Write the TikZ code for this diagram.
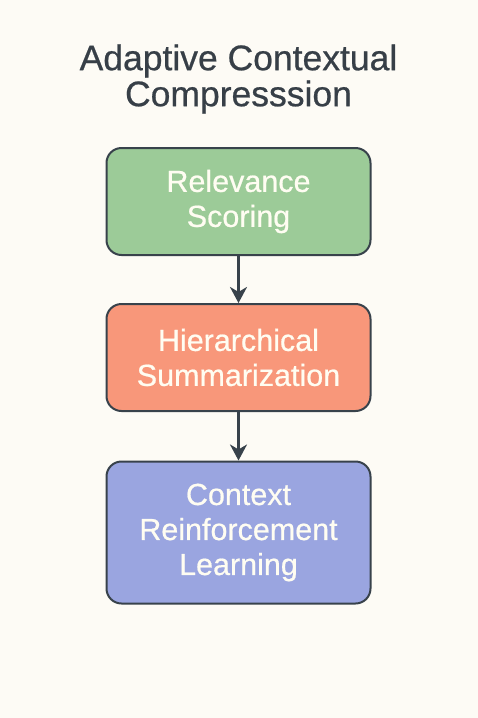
\documentclass[tikz,border=0pt]{standalone}
\usepackage{fontspec}
\setmainfont{Liberation Sans}
\newfontfamily\medfont{Liberation Sans}[BoldFont=Liberation Sans, BoldFeatures={FakeBold=0.6}]
\usetikzlibrary{arrows.meta}
\definecolor{bgcol}{HTML}{FDFBF5}
\definecolor{inkcol}{HTML}{38424B}
\definecolor{titlecol}{HTML}{373F47}
\definecolor{textcol}{HTML}{FFFDF2}
\definecolor{greencol}{HTML}{9CCB98}
\definecolor{orangecol}{HTML}{F8977A}
\definecolor{bluecol}{HTML}{9AA5E0}
\begin{document}
\begin{tikzpicture}[x=1pt,y=-1pt,
    stagebox/.style={draw=inkcol, line width=2pt, rounded corners=15pt,
        minimum width=264pt, align=center, text=textcol,
        font=\medfont\bfseries\fontsize{30.5}{35}\selectfont},
    flow/.style={draw=inkcol, line width=2.8pt,
        -{Stealth[length=16pt,width=17pt,inset=5pt]}}]
    % Background
    \fill[bgcol] (0,0) rectangle (478,718);

    % Title
    \node[text=titlecol, align=center, font=\medfont\bfseries\fontsize{35.5}{36}\selectfont] (title) at (238.5,79) {Adaptive Contextual\\Compresssion};

    % Stage 1
    \node[stagebox, fill=greencol, minimum height=107pt] (rel) at (238.5,201.5) {Relevance\\Scoring};

    % Stage 2
    \node[stagebox, fill=orangecol, minimum height=107pt] (hier) at (238.5,357.5) {Hierarchical\\Summarization};

    % Stage 3
    \node[stagebox, fill=bluecol, minimum height=142pt] (crl) at (238.5,532.5) {Context\\Reinforcement\\Learning};

    % Arrows
    \draw[flow] (rel) -- (hier);
    \draw[flow] (hier) -- (crl);
\end{tikzpicture}
\end{document}
